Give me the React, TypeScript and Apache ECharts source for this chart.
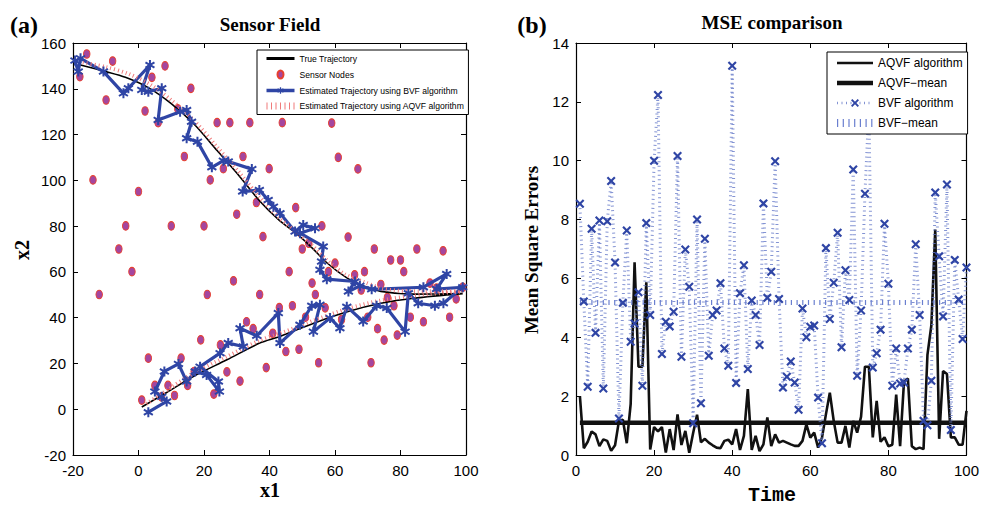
import React, { useEffect, useRef } from "react";
import * as echarts from "echarts";

// ---------- (a) Sensor Field ----------
const trueTrajectory: number[][] = [
  [-18, 150.5], [-10, 147.5], [-4, 145], [3, 140.5], [10, 133.5], [17, 124.5], [24, 113],
  [31, 101.5], [37, 91], [43, 82.5], [48, 77], [53, 70.5], [57.5, 64], [63.5, 57.5],
  [68.5, 54], [74, 51.5], [84, 50.3], [99, 50.5], [84, 48.5], [74, 46.3], [64, 42.7],
  [53.5, 37.6], [43, 31.7], [37, 28.9], [27, 21.6], [17, 14.5], [8.6, 7.3], [1, 1],
];

const aqvfTrajectory: number[][] = [
  [-17, 151.5], [-10, 149.5], [-3, 146.5], [4, 141.5], [10, 135], [17, 126], [24, 114.5],
  [31, 103], [37, 92.5], [43, 83.5], [48, 77.5], [53, 71.5], [58, 64.5], [63, 59],
  [69, 55.5], [75, 52.5], [85, 51.5], [99, 51.5], [85, 49.8], [74, 47.5], [64, 44],
  [54, 39], [44, 33.5], [37, 30], [27, 23], [17, 16], [9, 8.5], [2, 2],
];

const bvfTrajectory: number[][] = [
  [-19.4, 152.3], [-18.4, 147.5], [-17.7, 153.3], [-10.7, 147.5], [-4.6, 138], [-3.1, 140.2],
  [3.5, 150.4], [1.0, 139.5], [3.0, 138.7], [7.1, 140.2], [6.0, 126.4], [12.7, 130],
  [14.7, 130.7], [16.2, 125.6], [14.7, 118.4], [18.0, 116.9], [22.4, 105.7], [25.9, 108.6],
  [27.4, 108.2], [34.6, 104.9], [31.8, 95.1], [36.9, 95.8], [39.6, 91.4], [41.2, 88.5],
  [43.2, 85.6], [47.8, 77.6], [50.3, 80.5], [53.9, 79.1], [49.3, 76.9], [56.4, 71.1],
  [55.9, 64.5], [55.4, 60.9], [57.5, 56.8], [66.1, 55.8], [64.1, 51.4], [67.6, 53.9],
  [71.2, 52.4], [87.0, 53.3], [94.1, 59.1], [91.0, 52.5], [99.0, 53.3], [93.1, 46.3],
  [90.5, 45.2], [85.4, 46.3], [82.4, 50.7], [81.4, 33.9], [75.8, 44.2], [72.7, 45.2],
  [68.6, 38.3], [63.6, 44.8], [61.5, 35.4], [58.5, 39.8], [53.4, 33.9], [55.4, 45.6],
  [52.9, 45.2], [49.3, 36.9], [43.2, 28.9], [42.7, 42.0], [36.1, 32.1], [31.0, 35.4],
  [32.0, 27.4], [27.4, 28.9], [24.9, 24.5], [18.8, 18.6], [24.4, 12.1], [24.7, 7.7],
  [20.8, 15.0], [17.3, 16.5], [14.7, 12.1], [12.2, 19.8], [7.9, 16.5], [5.0, 7.7],
  [7.1, 5.4], [8.6, 3.4], [3.0, -1.3],
];

const sensorNodes: number[][] = [
  [-15.8, 155.2], [-17.9, 145.3], [-7.9, 152.1], [-9.9, 135.1], [4.1, 145], [8.1, 150],
  [2.0, 130.3], [16.0, 140.2], [6.0, 125.2], [12.0, 131.2], [24.0, 125.2], [27.9, 125.2],
  [34.0, 125.2], [43.9, 125.2], [59, 125], [14.0, 110.4], [31.9, 110.4], [61, 110],
  [25.9, 105.1], [39.9, 105.1], [67, 105], [-13.9, 100.2], [21.9, 100.2], [0, 95.1],
  [36, 90.3], [48, 88.1], [30, 85.2], [-3.9, 80.1], [10, 80.1], [20, 80.1], [56, 80.1],
  [38, 75.4], [64, 75.2], [52, 72.5], [-6, 70], [50, 70], [72, 70], [85, 70], [93, 69.2],
  [77, 65.2], [80, 65.2], [60, 63.8], [-2, 60.1], [46, 60.1], [58, 60.1], [69, 60.1],
  [81, 60.1], [66, 58.7], [29, 56.1], [53, 55.1], [74, 54.5], [89, 55.1], [68, 52.1],
  [91, 52.9], [99, 53.3], [-12, 50.1], [21, 50.1], [37, 50.1], [54, 50.1], [76, 48.8],
  [97, 48.2], [43, 44.4], [47, 45.2], [57, 44.3], [78, 45.2], [33, 38.2], [51, 40.2],
  [62, 39.2], [70, 40.2], [83, 40.2], [95, 40.2], [87, 38.2], [35, 35.2], [73, 35.2],
  [41, 33.2], [79, 32.4], [19, 30.3], [75, 30.2], [25, 28.1], [45, 25.2], [49, 26.2],
  [3, 22.3], [13, 22.3], [39, 18.2], [55, 20.3], [71, 20.3], [17, 16.5], [27, 16.3],
  [31, 12.3], [5, 10.4], [9, 10.4], [15, 10.4], [7, 5.4], [11, 6], [23, 6.6], [1, 4],
];

const axisTicksA = { xMin: -20, xMax: 100, xStep: 20, yMin: -20, yMax: 160, yStep: 20 };

// ---------- (b) MSE comparison ----------
const aqvfMse: number[] = [
  2.0, 0.23, 0.45, 0.8, 0.7, 0.3, 0.53, 0.48, 0.14, 0.33,
  1.16, 1.2, 0.4, 1.73, 6.55, 3.0, 3.0, 5.87, 0.19, 0.95,
  0.8, 0.95, 0.08, 0.88, 0.17, 1.38, 0.34, 0.82, 0.08, 0.75,
  1.37, 0.43, 0.55, 0.42, 0.33, 0.25, 0.23, 0.48, 0.52, 0.36,
  0.88, 0.17, 0.65, 2.24, 0.17, 0.65, 0.13, 0.36, 1.28, 0.3,
  0.7, 0.42, 0.48, 0.42, 0.36, 0.31, 0.31, 0.48, 1.04, 0.59,
  0.76, 0.25, 0.59, 1.38, 2.12, 1.16, 0.42, 0.42, 0.99, 0.25,
  1.16, 0.76, 1.3, 3.0, 3.0, 0.6, 1.84, 0.45, 0.6, 0.3,
  0.35, 2.05, 0.3, 2.5, 2.6, 0.3, 0.2, 0.25, 0.2, 3.4,
  4.4, 7.66, 0.55, 2.85, 2.75, 0.6, 0.6, 0.35, 0.35, 1.5,
];

const bvfMse: number[] = [
  8.54, 5.22, 2.32, 7.69, 4.15, 7.97, 2.26, 7.94, 9.31, 6.54,
  1.24, 5.17, 7.63, 3.85, 4.47, 5.53, 2.35, 7.88, 4.76, 10.0,
  12.23, 3.43, 4.53, 4.37, 4.87, 10.16, 3.34, 6.98, 5.72, 1.08,
  8.0, 1.76, 7.35, 3.37, 4.76, 4.91, 5.84, 3.62, 3.03, 13.23,
  2.45, 5.5, 6.45, 2.92, 5.25, 4.76, 3.74, 8.55, 5.34, 6.23,
  9.98, 5.3, 2.29, 2.66, 3.18, 2.46, 1.54, 4.98, 4.0, 4.36,
  4.4, 1.95, 0.4, 7.03, 4.62, 5.85, 7.55, 3.66, 6.28, 5.27,
  9.7, 2.69, 4.91, 8.88, 11.8, 2.97, 3.46, 4.26, 7.86, 5.82,
  2.35, 3.62, 2.43, 2.46, 3.62, 4.26, 7.16, 4.76, 1.16, 1.01,
  2.52, 8.92, 6.75, 4.71, 9.19, 0.85, 6.63, 5.28, 3.94, 6.37,
];

const aqvfMean = 1.1;
const bvfMean = 5.18;
const axisTicksB = { xMin: 0, xMax: 100, xStep: 20, yMin: 0, yMax: 14, yStep: 2 };

const SANS = '"Liberation Sans", Arial, sans-serif';
const SERIF = '"Liberation Serif", "Times New Roman", serif';
const MONO = '"Liberation Mono", "Courier New", monospace';

const ELLIPSE = "path://M3,0 A3,4 0 1 1 3,8 A3,4 0 1 1 3,0 Z";
const ASTERISK =
  "path://M4,0 L6,0 L6,3.3 L9,1.5 L10,3.2 L7,5 L10,6.8 L9,8.5 L6,6.7 L6,10 L4,10 L4,6.7 L1,8.5 L0,6.8 L3,5 L0,3.2 L1,1.5 L4,3.3 Z";
const CROSS =
  "path://M0,1.7 L1.7,0 L5,3.3 L8.3,0 L10,1.7 L6.7,5 L10,8.3 L8.3,10 L5,6.7 L1.7,10 L0,8.3 L3.3,5 Z";

function axisPair(gridIndex: number, t: any, isX: boolean, showLabels: boolean) {
  const common = {
    gridIndex,
    type: "value",
    min: isX ? t.xMin : t.yMin,
    max: isX ? t.xMax : t.yMax,
    interval: isX ? t.xStep : t.yStep,
    splitLine: { show: false },
    axisLine: { show: true, onZero: false, lineStyle: { color: "#000", width: 1.2 } },
    axisTick: { show: true, inside: true, length: 5, lineStyle: { color: "#000" } },
  };
  return [
    {
      ...common,
      position: isX ? "bottom" : "left",
      axisLabel: {
        show: showLabels,
        color: "#000",
        fontFamily: SANS,
        fontSize: 15,
        margin: isX ? 8 : 7,
      },
    },
    {
      ...common,
      position: isX ? "top" : "right",
      axisLabel: { show: false },
    },
  ];
}

const hide = { opacity: 0 };

export default function App() {
  const ref = useRef<HTMLDivElement>(null);
  useEffect(() => {
    document.body.style.margin = "0";
    const chart = echarts.init(ref.current!, null, { renderer: "svg" });
    const t = aqvfMse.map((_, i) => i + 1);
    const option: any = {
      animation: false,
      backgroundColor: "#fff",
      grid: [
        { left: 73, top: 43, width: 393, height: 412 },
        { left: 576, top: 43, width: 393, height: 412 },
      ],
      xAxis: [...axisPair(0, axisTicksA, true, true), ...axisPair(1, axisTicksB, true, true)],
      yAxis: [...axisPair(0, axisTicksA, false, true), ...axisPair(1, axisTicksB, false, true)],
      legend: [
        {
          left: 257,
          top: 50,
          orient: "vertical",
          backgroundColor: "#fff",
          borderColor: "#000",
          borderWidth: 1,
          borderRadius: 0,
          padding: [4, 4, 4, 6],
          itemWidth: 28,
          itemHeight: 8,
          itemGap: 6.5,
          textStyle: { fontFamily: SANS, fontSize: 8.6, color: "#000" },
          data: [
            { name: "True Trajectory", itemStyle: hide, lineStyle: { width: 3 } },
            "Sensor Nodes",
            { name: "Estimated Trajectory using BVF algorithm", lineStyle: { width: 3.5 } },
            {
              name: "Estimated Trajectory using AQVF algorithm",
              itemStyle: hide,
              lineStyle: { width: 7, type: [1, 3.5] },
            },
          ],
        },
        {
          left: 827,
          top: 52,
          orient: "vertical",
          backgroundColor: "#fff",
          borderColor: "#000",
          borderWidth: 1,
          borderRadius: 0,
          padding: [5, 5, 5, 6],
          itemWidth: 36,
          itemHeight: 10,
          itemGap: 8,
          textStyle: { fontFamily: SANS, fontSize: 11.9, color: "#000" },
          data: [
            { name: "AQVF algorithm", itemStyle: hide, lineStyle: { width: 2.6 } },
            { name: "AQVF\u2212mean", itemStyle: hide, lineStyle: { width: 4.5 } },
            { name: "BVF algorithm", lineStyle: { width: 2.5, type: [1, 3.5] } },
            { name: "BVF\u2212mean", itemStyle: hide, lineStyle: { width: 8, type: [1.2, 4.5] } },
          ],
        },
      ],
      series: [
        {
          name: "True Trajectory",
          type: "line",
          xAxisIndex: 0,
          yAxisIndex: 0,
          data: trueTrajectory,
          symbol: "none",
          smooth: 0.3,
          lineStyle: { color: "#000", width: 1.6 },
          itemStyle: { color: "#000" },
        },
        {
          name: "Sensor Nodes",
          type: "scatter",
          xAxisIndex: 0,
          yAxisIndex: 0,
          data: sensorNodes,
          symbol: ELLIPSE,
          symbolSize: [6.5, 8.5],
          itemStyle: { color: "#a4469f", borderColor: "#e8402e", borderWidth: 1, opacity: 1 },
        },
        {
          name: "Estimated Trajectory using BVF algorithm",
          type: "line",
          xAxisIndex: 0,
          yAxisIndex: 0,
          data: bvfTrajectory,
          symbol: ASTERISK,
          symbolSize: 10,
          showAllSymbol: true,
          lineStyle: { color: "#2f45a5", width: 3.2 },
          itemStyle: { color: "#2f45a5" },
        },
        {
          name: "Estimated Trajectory using AQVF algorithm",
          type: "line",
          xAxisIndex: 0,
          yAxisIndex: 0,
          data: aqvfTrajectory,
          symbol: "none",
          smooth: 0.3,
          lineStyle: { color: "#f07a7a", width: 4, type: [1, 3], cap: "butt" },
          itemStyle: { color: "#f07a7a" },
        },
        {
          name: "AQVF algorithm",
          type: "line",
          xAxisIndex: 2,
          yAxisIndex: 2,
          data: t.map((x, i) => [x, aqvfMse[i]]),
          symbol: "none",
          lineStyle: { color: "#111", width: 2.6 },
          itemStyle: { color: "#111" },
        },
        {
          name: "AQVF\u2212mean",
          type: "line",
          xAxisIndex: 2,
          yAxisIndex: 2,
          data: [[1, aqvfMean], [100, aqvfMean]],
          symbol: "none",
          lineStyle: { color: "#111", width: 4.5 },
          itemStyle: { color: "#111" },
        },
        {
          name: "BVF algorithm",
          type: "line",
          xAxisIndex: 2,
          yAxisIndex: 2,
          data: t.map((x, i) => [x, bvfMse[i]]),
          symbol: CROSS,
          symbolSize: 9,
          showAllSymbol: true,
          lineStyle: { color: "#6478c8", width: 3, type: [1, 3.5], cap: "butt", opacity: 0.8 },
          itemStyle: { color: "#2f45a5" },
        },
        {
          name: "BVF\u2212mean",
          type: "line",
          xAxisIndex: 2,
          yAxisIndex: 2,
          data: [[1, bvfMean], [100, bvfMean]],
          symbol: "none",
          lineStyle: { color: "#6a7fcf", width: 5, type: [1.2, 4.5], cap: "butt" },
          itemStyle: { color: "#6a7fcf" },
        },
      ],
      graphic: [
        { type: "text", x: 24, y: 25, style: { text: "(a)", font: `bold 24px ${SERIF}`, fill: "#000", align: "center", verticalAlign: "middle" } },
        { type: "text", x: 270, y: 24, style: { text: "Sensor Field", font: `bold 19px ${SERIF}`, fill: "#000", align: "center", verticalAlign: "middle" } },
        { type: "text", x: 270, y: 490, style: { text: "x1", font: `bold 20px ${SERIF}`, fill: "#000", align: "center", verticalAlign: "middle" } },
        { type: "text", x: 22, y: 250, rotation: Math.PI / 2, style: { text: "x2", font: `bold 20px ${SERIF}`, fill: "#000", align: "center", verticalAlign: "middle" } },
        { type: "text", x: 532, y: 25, style: { text: "(b)", font: `bold 24px ${SERIF}`, fill: "#000", align: "center", verticalAlign: "middle" } },
        { type: "text", x: 772, y: 22, style: { text: "MSE comparison", font: `bold 19px ${SERIF}`, fill: "#000", align: "center", verticalAlign: "middle" } },
        { type: "text", x: 531, y: 250, rotation: Math.PI / 2, style: { text: "Mean Square Errors", font: `bold 19px ${SERIF}`, fill: "#000", align: "center", verticalAlign: "middle" } },
        { type: "text", x: 772, y: 495, style: { text: "Time", font: `bold 20px ${MONO}`, fill: "#000", align: "center", verticalAlign: "middle" } },
      ],
    };
    chart.setOption(option);
    return () => chart.dispose();
  }, []);
  return <div ref={ref} style={{ width: 982, height: 507 }} />;
}
